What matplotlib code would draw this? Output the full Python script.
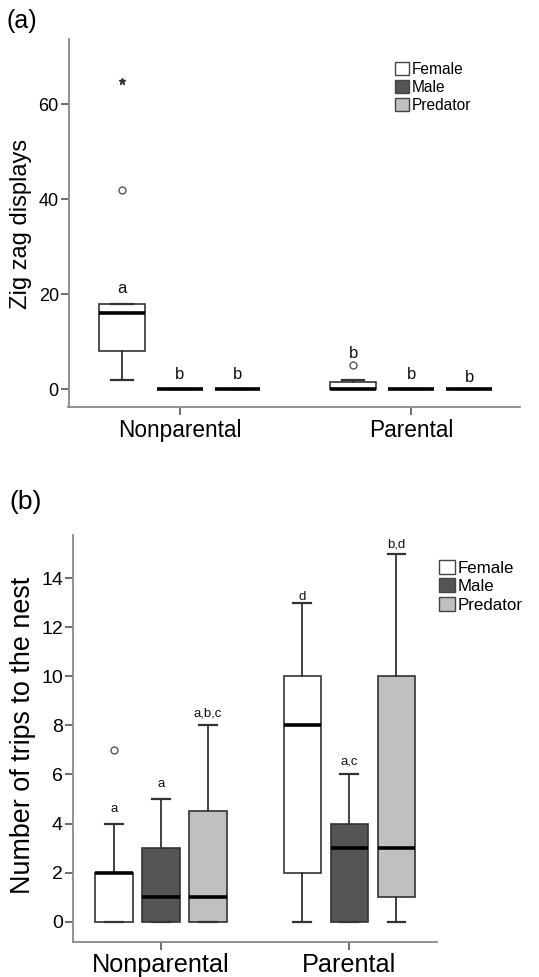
import matplotlib
matplotlib.use("Agg")
import matplotlib.pyplot as plt
from matplotlib.patches import Patch

plt.rcParams['font.family'] = ['Liberation Sans', 'DejaVu Sans']

groups = ["Nonparental", "Parental"]
series = ["Female", "Male", "Predator"]
colors = ["#ffffff", "#555555", "#c0c0c0"]

# Panel (a): Zig zag displays  [group][series]
zz_whislo = [[2, 0, 0], [0, 0, 0]]
zz_q1 = [[8, 0, 0], [0, 0, 0]]
zz_med = [[16, 0, 0], [0, 0, 0]]
zz_q3 = [[18, 0, 0], [1.5, 0, 0]]
zz_whishi = [[18, 0, 0], [2, 0, 0]]
zz_outliers = [[[42], [], []], [[5], [], []]]
zz_extremes = [[[65], [], []], [[], [], []]]
zz_letters = [["a", "b", "b"], ["b", "b", "b"]]
zz_letter_y = [[20.3, 2.1, 2.1], [6.5, 2.1, 1.6]]
zz_yticks = [0, 20, 40, 60]

# Panel (b): Number of trips to the nest
tr_whislo = [[0, 0, 0], [0, 0, 0]]
tr_q1 = [[0, 0, 0], [2, 0, 1]]
tr_med = [[2, 1, 1], [8, 3, 3]]
tr_q3 = [[2, 3, 4.5], [10, 4, 10]]
tr_whishi = [[4, 5, 8], [13, 6, 15]]
tr_outliers = [[[7], [], []], [[], [], []]]
tr_letters = [["a", "a", "a,b,c"], ["d", "a,c", "b,d"]]
tr_letter_y = [[4.46, 5.48, 8.36], [13.12, 6.39, 15.25]]
tr_yticks = [0, 2, 4, 6, 8, 10, 12, 14]

W, H = 539, 977
fig = plt.figure(figsize=(W / 100, H / 100), dpi=100)

offsets = [-0.25, 0.0, 0.25]
bw = 0.198
spine_c = "#8a8a8a"
edge_c = "#333333"


def fa(l, r, t, b):
    return [l / W, 1 - b / H, (r - l) / W, (b - t) / H]


def draw_panel(ax, whislo, q1, med, q3, whishi, outliers, letters, letter_y,
               letter_fs, extremes=None):
    for gi in range(len(groups)):
        for si in range(len(series)):
            pos = gi + offsets[si]
            st = dict(med=med[gi][si], q1=q1[gi][si], q3=q3[gi][si],
                      whislo=whislo[gi][si], whishi=whishi[gi][si],
                      fliers=outliers[gi][si])
            ax.bxp([st], positions=[pos], widths=bw, patch_artist=True,
                   showfliers=True, capwidths=[0.094],
                   boxprops=dict(facecolor=colors[si], edgecolor=edge_c, linewidth=1.2),
                   medianprops=dict(color="black", linewidth=2.6),
                   whiskerprops=dict(color=edge_c, linewidth=1.3),
                   capprops=dict(color=edge_c, linewidth=1.6),
                   flierprops=dict(marker="o", markerfacecolor="none",
                                   markeredgecolor="#555555", markersize=5,
                                   markeredgewidth=1.0),
                   manage_ticks=False)
            if extremes is not None and extremes[gi][si]:
                ax.plot([pos] * len(extremes[gi][si]), extremes[gi][si],
                        linestyle="none", marker="*", color="#333333",
                        markersize=5)
            ax.text(pos, letter_y[gi][si], letters[gi][si], ha="center",
                    va="baseline", fontsize=letter_fs, color="#111111")
    for s in ["top", "right"]:
        ax.spines[s].set_visible(False)
    for s in ["left", "bottom"]:
        ax.spines[s].set_color(spine_c)
        ax.spines[s].set_linewidth(1.3)
    ax.tick_params(axis="both", direction="out", length=6, width=1.2,
                   color="#555555", pad=1)
    ax.set_xticks(range(len(groups)))
    ax.set_xticklabels(groups)


# ---- Panel (a)
axa = fig.add_axes(fa(68.5, 520, 39, 406.7))
draw_panel(axa, zz_whislo, zz_q1, zz_med, zz_q3, zz_whishi, zz_outliers,
           zz_letters, zz_letter_y, 12, extremes=zz_extremes)
axa.set_xlim(-0.48, 1.47)
axa.set_ylim(-3.7, 73.8)
axa.set_yticks(zz_yticks)
axa.tick_params(axis="y", labelsize=13)
axa.tick_params(axis="x", labelsize=16.3, pad=3)
axa.set_ylabel("Zig zag displays", fontsize=17, va="center")
axa.yaxis.set_label_coords((21 - 68.5) / (520 - 68.5), 0.498)
fig.text(6 / W, 1 - 21 / H, "(a)", fontsize=18, va="center", ha="left")

handles = [Patch(facecolor=c, edgecolor="#444444", linewidth=1.0) for c in colors]
fig.legend(handles, series, loc="upper left",
           bbox_to_anchor=(395 / W, 1 - 62 / H), frameon=False,
           fontsize=11.2, handlelength=0.9, handleheight=0.9,
           handletextpad=0.15, labelspacing=0.18, borderpad=0,
           borderaxespad=0)

# ---- Panel (b)
axb = fig.add_axes(fa(72.7, 436.7, 535, 941.7))
draw_panel(axb, tr_whislo, tr_q1, tr_med, tr_q3, tr_whishi, tr_outliers,
           tr_letters, tr_letter_y, 9.5)
axb.set_xlim(-0.469, 1.464)
axb.set_ylim(-0.815, 15.76)
axb.set_yticks(tr_yticks)
axb.tick_params(axis="y", labelsize=14)
axb.tick_params(axis="x", labelsize=18.2, pad=2)
axb.set_ylabel("Number of trips to the nest", fontsize=19.4, va="center")
axb.yaxis.set_label_coords((23 - 72.7) / (436.7 - 72.7), 0.508)
fig.text(9 / W, 1 - 502 / H, "(b)", fontsize=19, va="center", ha="left")

fig.legend(handles, series, loc="upper left",
           bbox_to_anchor=(439 / W, 1 - 560 / H), frameon=False,
           fontsize=12.2, handlelength=0.95, handleheight=0.9,
           handletextpad=0.15, labelspacing=0.15, borderpad=0,
           borderaxespad=0)

fig.savefig("out.png", dpi=100)
